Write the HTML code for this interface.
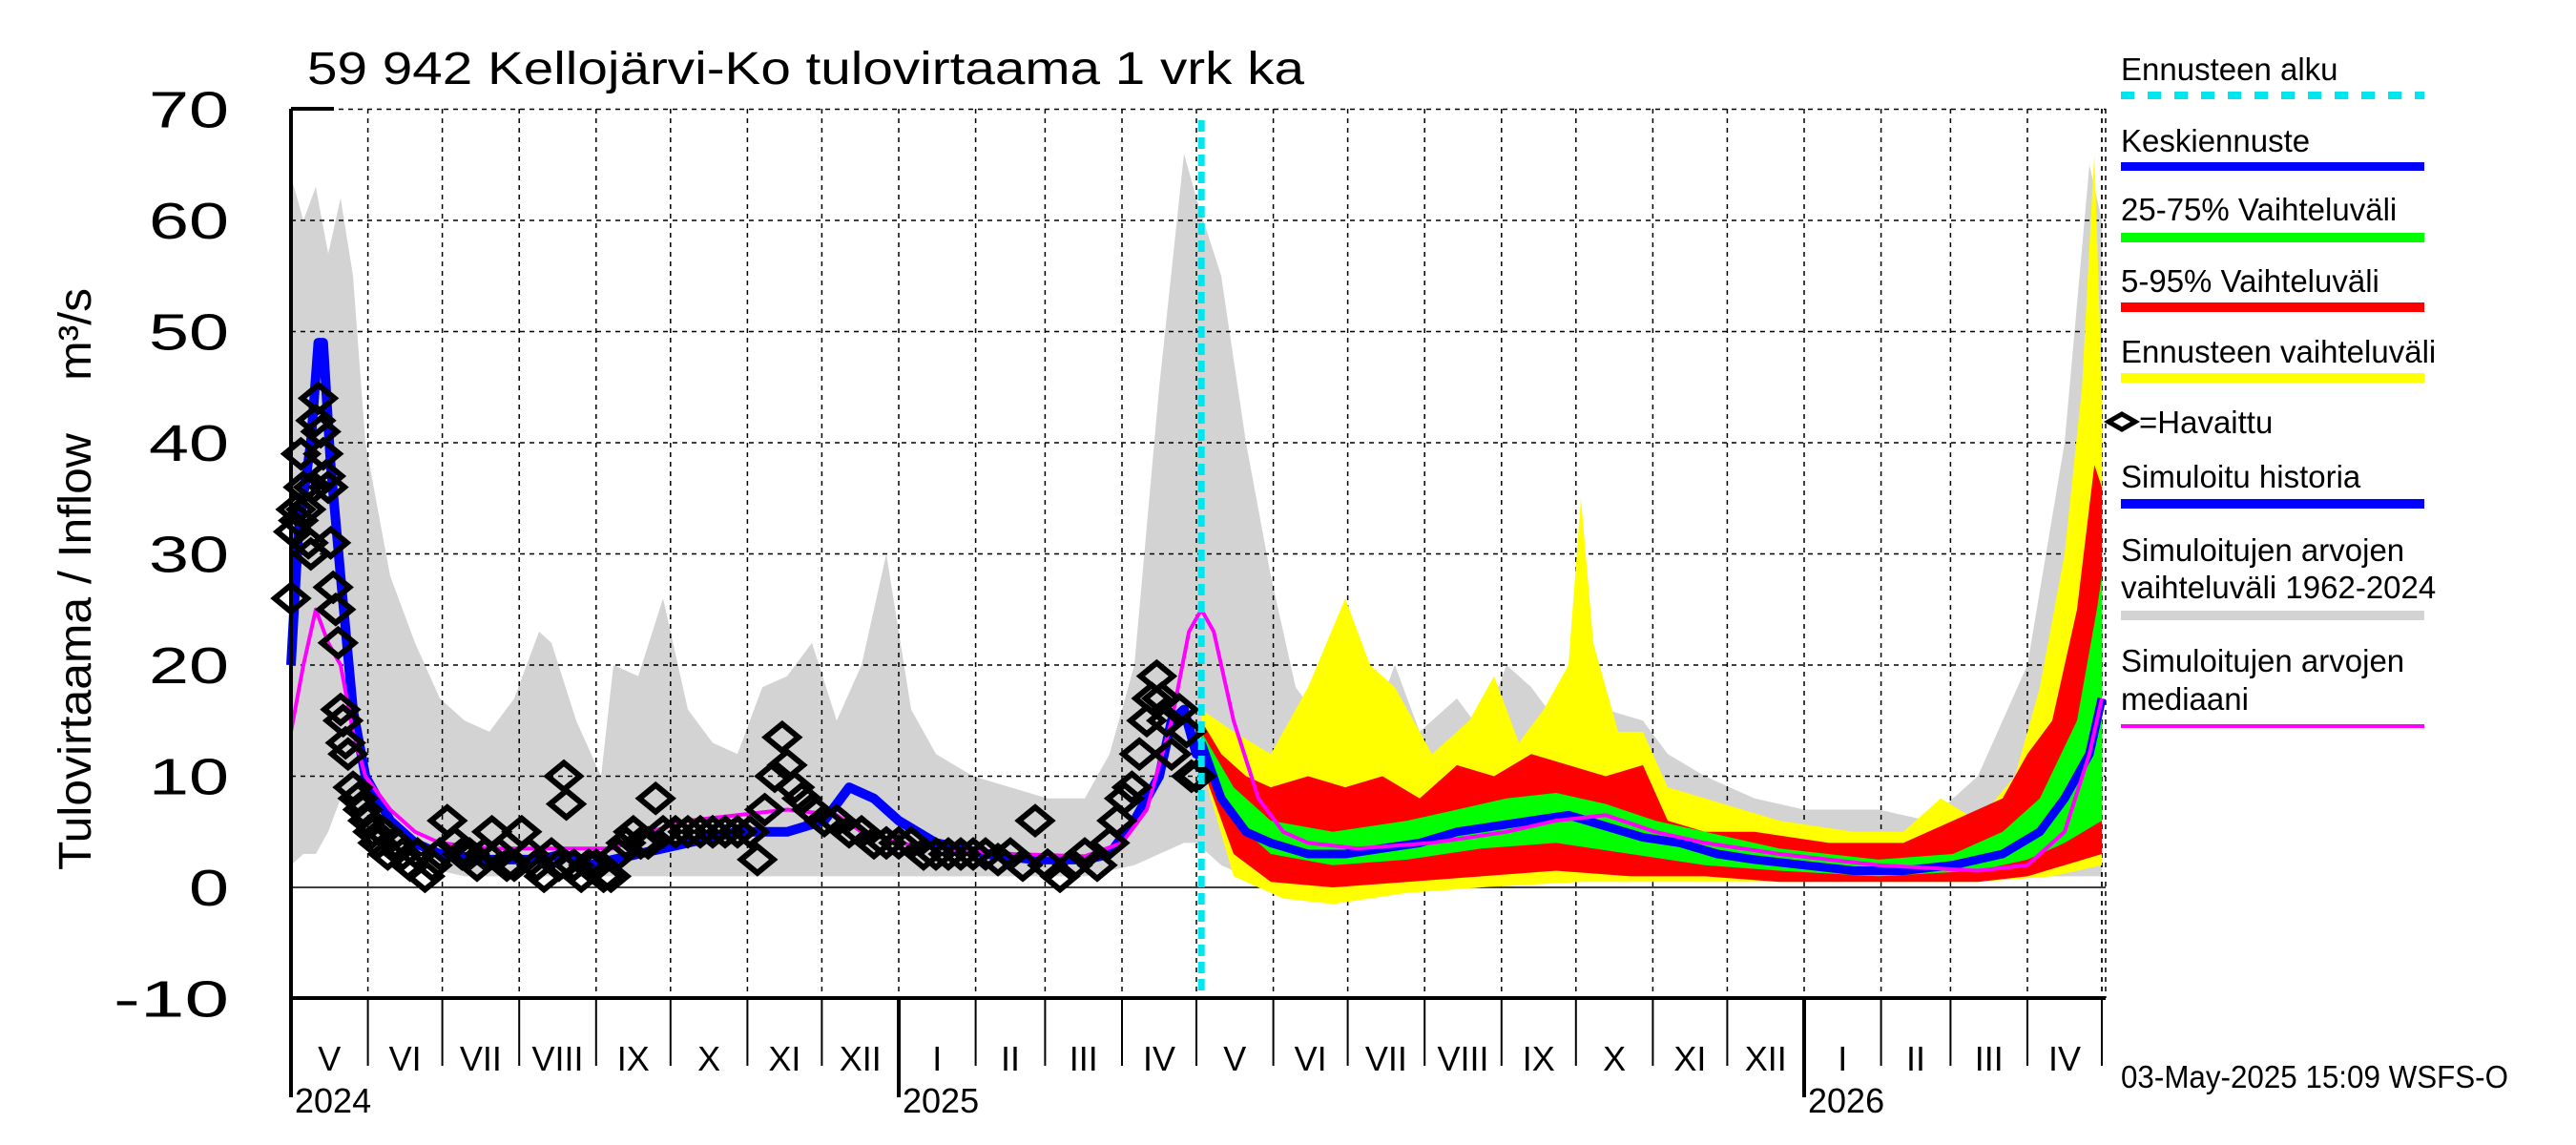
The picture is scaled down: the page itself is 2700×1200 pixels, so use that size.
<!DOCTYPE html>
<html><head><meta charset="utf-8"><style>
body{margin:0;background:#fff}
svg{display:block;font-family:"Liberation Sans",sans-serif}
</style></head><body>
<svg id="c" width="2700" height="1200" viewBox="0 0 2700 1200">
<text x="322" y="88" font-size="48" textLength="1045" lengthAdjust="spacingAndGlyphs">59 942 Kellojärvi-Ko tulovirtaama 1 vrk ka</text>
<text transform="translate(95,607) rotate(-90)" text-anchor="middle" font-size="48" textLength="610" lengthAdjust="spacingAndGlyphs">Tulovirtaama / Inflow &#160;&#160; m³/s</text>
<g id="legend" font-size="33">
<text x="2223" y="84">Ennusteen alku</text>
<line x1="2223" y1="100" x2="2541" y2="100" stroke="#00e5ee" stroke-width="8" stroke-dasharray="14,14"/>
<text x="2223" y="159">Keskiennuste</text>
<rect x="2223" y="170" width="318" height="9" fill="#0000ff"/>
<text x="2223" y="231">25-75% Vaihteluväli</text>
<rect x="2223" y="244" width="318" height="10" fill="#00ff00"/>
<text x="2223" y="306">5-95% Vaihteluväli</text>
<rect x="2223" y="317" width="318" height="10" fill="#ff0000"/>
<text x="2223" y="380">Ennusteen vaihteluväli</text>
<rect x="2223" y="391" width="318" height="10" fill="#ffff00"/>
<path d="M2210,442 L2224,434 L2238,442 L2224,450 Z" fill="none" stroke="#000" stroke-width="5"/>
<text x="2242" y="454">=Havaittu</text>
<text x="2223" y="511">Simuloitu historia</text>
<rect x="2223" y="523" width="318" height="10" fill="#0000ff"/>
<text x="2223" y="588">Simuloitujen arvojen</text>
<text x="2223" y="627">vaihteluväli 1962-2024</text>
<rect x="2223" y="640" width="318" height="10" fill="#d3d3d3"/>
<text x="2223" y="704">Simuloitujen arvojen</text>
<text x="2223" y="744">mediaani</text>
<rect x="2223" y="759" width="318" height="4" fill="#ff00ff"/>
</g>
<text x="2223" y="1140" font-size="33" textLength="406" lengthAdjust="spacingAndGlyphs">03-May-2025 15:09 WSFS-O</text>
<g id="plot"></g>
</svg>
<script>
const monthDays=[0,31,61,92,123,153,184,214,245,276,304,335,365,396,426,457,488,518,549,579,610,641,669,700,730];
const monthLabels=["V","VI","VII","VIII","IX","X","XI","XII","I","II","III","IV","V","VI","VII","VIII","IX","X","XI","XII","I","II","III","IV"];
const yearDays=[0,245,610];
const yearLabels=["2024","2025","2026"];
const yTicks=[-10,0,10,20,30,40,50,60,70];
const forecastStartDay=367;

const grayDays=[0,5,10,15,20,25,30,40,50,60,70,80,90,100,105,115,125,130,140,150,160,170,180,190,200,210,220,230,240,250,260,275,290,305,320,330,340,350,360,365,375,385,395,405,415,425,435,445,455,470,480,490,500,510,520,530,545,555,570,590,610,640,660,680,700,715,725,730];
const grayHi=[64,60,63,57,62,55,40,28,22,17,15,14,17,23,22,15,10,20,19,26,16,13,12,18,19,22,15,20,30,16,12,10,9,8,8,12,20,45,66,62,55,40,28,18,15,20,14,20,14,17,14,20,18,15,22,16,15,12,10,8,7,7,6,10,20,40,65,60];
const grayLo=[2,3,3,5,8,6,5,3,2,1.5,1,1,1,1,1,1,1,1,1,1,1,1,1,1,1,1,1,1,1,1,1,1,1,1,1,1.5,2,3,4,4,2,1,0,0,-1,0,0,0.5,1,1,1,1,1,1,1,1,1,1,1,1,1,1,1,1,1,1,1,1];

const medDays=[0,5,10,15,20,25,30,40,50,60,80,110,130,145,160,180,200,220,230,245,260,290,320,335,345,355,362,367,372,380,390,400,410,430,460,490,510,530,550,570,600,640,680,700,715,725,730];
const medVals=[14,20,25,22,20,14,10,7,5,4,3.5,3.5,3.5,5,6,6.5,7,6.5,5,4,3.5,3,2.8,4,7,15,23,25,23,15,8,5,4,3.5,4,5,6,6.5,5,4,3,2,1.5,2,5,12,17];

const simDays=[0,3,8,11,13,16,20,25,30,40,50,60,80,100,110,120,140,160,180,200,215,225,235,245,260,280,300,320,330,340,350,355,360,365,367];
const simVals=[20,32,40,49,49,38,28,16,10,6,4,3,2.5,2.5,3,2,3,4,5,5,6,9,8,6,4,3,2.5,2.5,3,6,10,15,16,12,12];

const obsDays=[0,1,2,3,4,5,6,7,8,9,10,11,12,13,14,15,16,17,18,19,20,21,22,23,25,27,29,31,33,35,37,39,42,45,48,51,54,57,60,63,66,69,72,75,78,81,84,87,90,93,96,99,102,105,108,110,111,114,117,120,123,126,129,132,135,138,141,144,147,150,155,160,165,170,175,180,185,188,191,195,198,200,203,206,210,215,220,225,230,235,240,245,250,255,260,265,270,275,280,285,290,295,300,305,310,315,320,325,330,333,336,339,342,345,347,349,351,353,355,358,361,363,365];
const obsVals=[26,32,34,33,39,36,34,31,30,36,42,44,41,39,37,36,31,27,25,22,16,15,13,12,9,8,7,6,5,4,5,3,4,3,2,3,1,2,3,6,4,3,3,2,3,5,3,2,2,5,3,2,1,3,2,10,7.5,2,1,2,2,1,1,3,4,5,4,4,8,5,5,5,5,5,5,5,5,2.5,7,10,13.5,11,9,8,7,6,6,5,5,4,4,4,4,3,3,3,3,3,3,2.5,3,2,6,2,1,2,3,2,4,6,8,9,12,15,17,19,17,15,12,16,14,10,10];

const yelDays=[367,380,395,410,425,435,445,460,475,485,495,505,515,520,525,535,545,555,570,600,630,650,665,680,695,705,715,722,727,730];
const yelHi=[16,14,12,18,26,20,18,12,15,19,13,16,20,35,22,14,14,9,8,6,5,5,8,6,10,18,30,45,66,45];
const yelLoDays=[367,380,400,420,450,480,520,560,600,640,680,710,730];
const yelLo=[11,1,-1,-1.5,-0.5,0,0.5,0.5,0.5,0.5,0.5,1,2];

const redDays=[367,375,385,395,410,425,440,455,470,485,500,515,530,545,555,570,590,620,650,670,690,700,710,720,727,730];
const redHi=[15,12,10,9,10,9,10,8,11,10,12,11,10,11,6,5,5,4,4,6,8,12,15,25,38,36];
const redLoDays=[367,380,395,420,450,480,510,540,570,600,640,680,700,715,730];
const redLo=[11,3,0.5,0,0.5,1,1.5,1,1,0.5,0.5,0.5,1,2,3];

const grnDays=[367,380,395,420,450,470,490,510,530,550,570,600,640,670,690,705,720,728,730];
const grnHi=[14,9,6,5,6,7,8,8.5,7.5,6,5,3.5,2.5,3,5,8,15,25,28];
const grnLoDays=[367,380,395,420,450,480,510,540,570,600,640,680,700,715,730];
const grnLo=[12,6,3,2,2.5,3.5,4,3,2,1.5,1,1.5,2.5,4,6];

const meanDays=[367,375,385,395,410,425,440,455,470,485,500,515,530,545,560,575,590,610,630,650,670,690,705,715,725,730];
const meanVals=[13,8,5,4,3,3,3.5,4,5,5.5,6,6.5,5.5,4.5,4,3,2.5,2,1.5,1.5,2,3,5,8,12,17];

const L=305,R=2207,T=114,B=1046;
const X=d=>L+d*2.6;
const Y=v=>930-v*11.65;
const NS="http://www.w3.org/2000/svg";
const g=document.getElementById('plot');
function el(t,a,p){const e=document.createElementNS(NS,t);for(const k in a)e.setAttribute(k,a[k]);(p||g).appendChild(e);return e;}
function line(ds,vs){return ds.map((d,i)=>(i?'L':'M')+X(d).toFixed(1)+','+Y(vs[i]).toFixed(1)).join(' ');}
function band(d1,hi,d2,lo){let s=line(d1,hi);for(let i=d2.length-1;i>=0;i--)s+=' L'+X(d2[i]).toFixed(1)+','+Y(lo[i]).toFixed(1);return s+' Z';}

let e;
e=el('path',{d:band(grayDays,grayHi,grayDays,grayLo),fill:'#d3d3d3'});


yTicks.forEach(v=>{
  if(v>0){e=el('line',{x1:L,x2:R,y1:Y(v),y2:Y(v),stroke:'#000','stroke-width':1.5,'stroke-dasharray':'5,5'});
  
  }
  const s=String(v);
  e=el('text',{x:240,y:Y(v)+19,'text-anchor':'end','font-size':54,textLength:(s.length*42+(v<0?-5:0)),lengthAdjust:'spacingAndGlyphs'});
  e.textContent=s;
  
  
});
monthDays.forEach((d,i)=>{
  if(i>0){e=el('line',{x1:X(d),x2:X(d),y1:T,y2:B,stroke:'#000','stroke-width':1.5,'stroke-dasharray':'5,5'});
  
  }
  e=el('line',{x1:X(d),x2:X(d),y1:B,y2:1117,stroke:'#000','stroke-width':2});
  
  
  if(i<monthLabels.length){
    e=el('text',{x:(X(d)+X(monthDays[i+1]))/2,y:1122,'text-anchor':'middle','font-size':36});
    e.textContent=monthLabels[i];
    
    
  }
});
el('line',{x1:R-4,x2:R-4,y1:T,y2:B,stroke:'#000','stroke-width':1.5,'stroke-dasharray':'5,5'});
el('line',{x1:R,x2:R,y1:T,y2:B,stroke:'#000','stroke-width':1.5,'stroke-dasharray':'5,5'});
el('line',{x1:L,x2:R,y1:Y(0),y2:Y(0),stroke:'#000','stroke-width':1.5});
yearDays.forEach((d,i)=>{
  e=el('line',{x1:X(d),x2:X(d),y1:B,y2:1150,stroke:'#000','stroke-width':4});
  
  
  e=el('text',{x:X(d)+4,y:1166,'font-size':36});
  e.textContent=yearLabels[i];
  
  
});
e=el('path',{d:band(yelDays,yelHi,yelLoDays,yelLo),fill:'#ffff00'});


e=el('path',{d:band(redDays,redHi,redLoDays,redLo),fill:'#ff0000'});


e=el('path',{d:band(grnDays,grnHi,grnLoDays,grnLo),fill:'#00ff00'});


e=el('path',{d:line(meanDays,meanVals),fill:'none',stroke:'#0000ff','stroke-width':9,'stroke-linejoin':'round'});


e=el('path',{d:line(simDays,simVals),fill:'none',stroke:'#0000ff','stroke-width':10,'stroke-linejoin':'round'});


e=el('path',{d:line(medDays,medVals),fill:'none',stroke:'#ff00ff','stroke-width':4,'stroke-linejoin':'round'});


obsDays.forEach((d,i)=>{
  const x=X(d),y=Y(obsVals[i]);
  e=el('path',{d:`M${x-17},${y} L${x},${y-14} L${x+17},${y} L${x},${y+14} Z`,fill:'none',stroke:'#000','stroke-width':6});
  
  
});
e=el('line',{x1:X(forecastStartDay),x2:X(forecastStartDay),y1:126,y2:B,stroke:'#00e5ee','stroke-width':7,'stroke-dasharray':'12,6'});


el('line',{x1:L,x2:L,y1:T,y2:B,stroke:'#000','stroke-width':4});
el('line',{x1:L,x2:R,y1:B,y2:B,stroke:'#000','stroke-width':4});
el('line',{x1:L,x2:L+45,y1:T,y2:T,stroke:'#000','stroke-width':4});
</script>
</body></html>
